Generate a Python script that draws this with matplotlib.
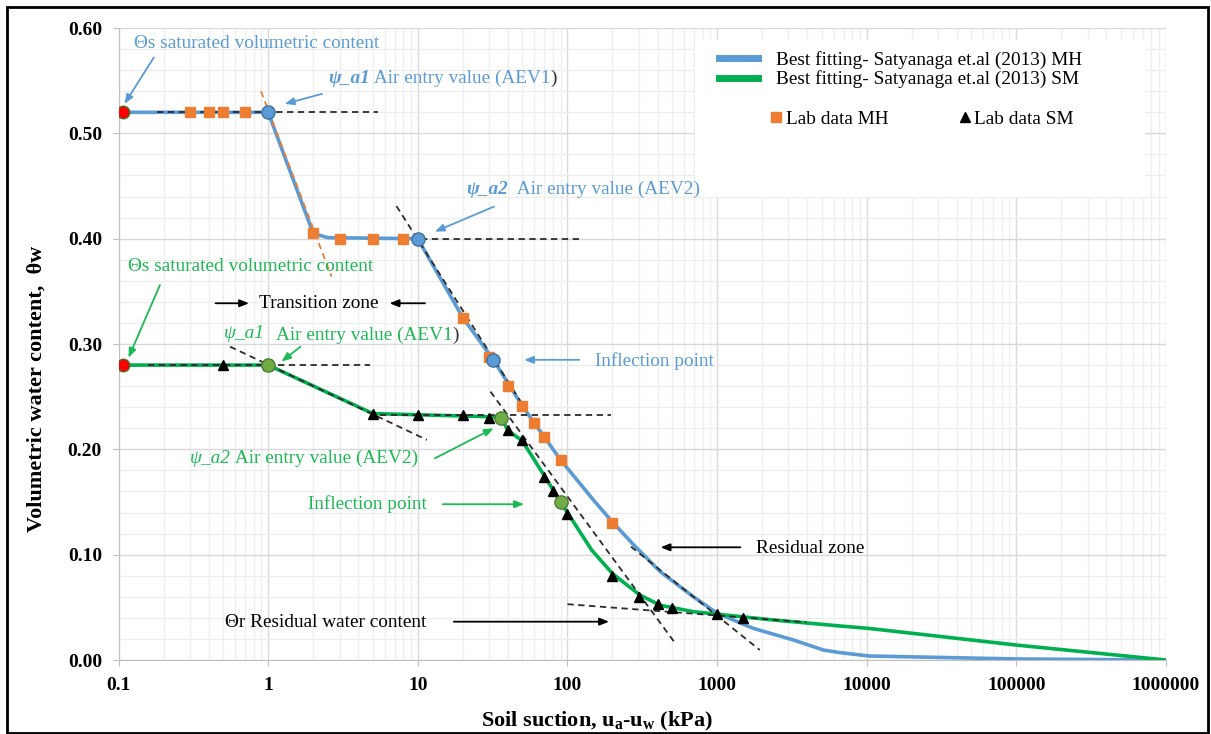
import matplotlib
matplotlib.use('Agg')
import matplotlib.pyplot as plt
from matplotlib.lines import Line2D
from matplotlib.patches import Rectangle
from matplotlib.ticker import MultipleLocator, LogLocator, NullFormatter

plt.rcParams['font.family'] = ['Liberation Serif', 'DejaVu Serif']
plt.rcParams['mathtext.fontset'] = 'custom'
plt.rcParams['mathtext.rm'] = 'Liberation Serif'
plt.rcParams['mathtext.bf'] = 'Liberation Serif:bold'
plt.rcParams['mathtext.it'] = 'Liberation Serif:italic'

# ---------------- data ----------------
mh_fit_x = [0.107, 1, 2, 2.5, 10, 20, 32, 50, 90, 149, 200, 283, 416, 695, 1000,
            1750, 3240, 5130, 6640, 10380, 100000, 1000000]
mh_fit_y = [0.52, 0.52, 0.405, 0.401, 0.40, 0.325, 0.285, 0.241, 0.19, 0.152, 0.131,
            0.108, 0.084, 0.060, 0.0445, 0.030, 0.019, 0.0095, 0.007, 0.0038, 0.001, 0.0]

sm_fit_x = [0.107, 1, 5, 30, 36, 40, 50, 70, 90, 100, 145, 200, 305, 416, 695, 1020,
            2380, 6640, 10350, 100000, 1000000]
sm_fit_y = [0.28, 0.28, 0.234, 0.231, 0.23, 0.218, 0.208, 0.175, 0.15, 0.14, 0.1045,
            0.082, 0.0617, 0.052, 0.0459, 0.0434, 0.038, 0.0323, 0.030, 0.0142, 0.0]

mh_lab_x = [0.3, 0.4, 0.5, 0.7, 2, 3, 5, 8, 20, 30, 40, 50, 60, 70, 90, 200]
mh_lab_y = [0.52, 0.52, 0.52, 0.52, 0.405, 0.40, 0.40, 0.40, 0.325, 0.288, 0.26,
            0.241, 0.225, 0.212, 0.19, 0.13]

sm_lab_x = [0.5, 1, 5, 10, 20, 30, 40, 50, 70, 80, 100, 200, 300, 400, 500, 1000, 1500]
sm_lab_y = [0.28, 0.28, 0.234, 0.233, 0.233, 0.23, 0.218, 0.209, 0.174, 0.16, 0.139,
            0.08, 0.06, 0.053, 0.049, 0.044, 0.04]

sat_x = [0.107, 0.107]
sat_y = [0.52, 0.28]
mh_key_x = [1, 10, 32]
mh_key_y = [0.52, 0.40, 0.285]
sm_key_x = [1, 36, 90]
sm_key_y = [0.28, 0.23, 0.15]

# construction (tangent) lines: (x pair, y pair)
tangents_black = [
    ([0.18, 5.4], [0.52, 0.52]),
    ([10.5, 119], [0.40, 0.40]),
    ([7.2, 52], [0.431, 0.239]),
    ([266, 1930], [0.1076, 0.0095]),
    ([0.157, 4.8], [0.28, 0.28]),
    ([0.556, 11.5], [0.2975, 0.209]),
    ([5.6, 195], [0.233, 0.233]),
    ([30.6, 516], [0.2548, 0.0174]),
    ([100, 3950], [0.053, 0.0359]),
]
tangent_orange = ([0.895, 2.65], [0.54, 0.364])

x_ticks = [0.1, 1, 10, 100, 1000, 10000, 100000, 1000000]
x_tick_labels = ['0.1', '1', '10', '100', '1000', '10000', '100000', '1000000']
y_ticks = [0.0, 0.1, 0.2, 0.3, 0.4, 0.5, 0.6]
y_tick_labels = ['0.00', '0.10', '0.20', '0.30', '0.40', '0.50', '0.60']

# ---------------- style ----------------
BLUE = '#5B9BD5'
GREEN = '#00B050'
ORANGE = '#ED7D31'
TXT_GREEN = '#1DB954'
DASH = '#2b2b2b'
FS = 13.9

fig = plt.figure(figsize=(12.11, 7.34), dpi=100)
ax = fig.add_axes([0.0979, 0.1008, 0.8649, 0.861])
ax.set_xscale('log')
ax.set_xlim(0.1, 1e6)
ax.set_ylim(0, 0.6)

ax.set_axisbelow(True)
ax.xaxis.set_minor_locator(LogLocator(base=10, subs=range(2, 10), numticks=20))
ax.xaxis.set_minor_formatter(NullFormatter())
ax.yaxis.set_minor_locator(MultipleLocator(0.02))
ax.grid(which='major', color='#D9D9D9', lw=1.0)
ax.grid(which='minor', color='#EEEEEE', lw=0.9)

ax.set_xticks(x_ticks)
ax.set_xticklabels(x_tick_labels)
ax.set_yticks(y_ticks)
ax.set_yticklabels(y_tick_labels)
ax.tick_params(which='major', length=4, color='#BFBFBF', labelsize=14, pad=8)
ax.tick_params(which='minor', length=0)
for lab in ax.get_xticklabels() + ax.get_yticklabels():
    lab.set_fontweight('bold')
for s in ['top', 'right']:
    ax.spines[s].set_visible(False)
for s in ['left', 'bottom']:
    ax.spines[s].set_color('#BFBFBF')

# white legend box covering grid
ax.add_patch(Rectangle((0.550, 0.733), 0.430, 0.248, transform=ax.transAxes,
                       facecolor='white', edgecolor='none', zorder=1))

# fitted curves
ax.plot(mh_fit_x, mh_fit_y, color=BLUE, lw=2.6, zorder=2, solid_capstyle='round')
ax.plot(sm_fit_x, sm_fit_y, color=GREEN, lw=2.6, zorder=2, solid_capstyle='round')

# construction lines
for xs, ys in tangents_black:
    ax.plot(xs, ys, color=DASH, lw=1.3, ls=(0, (3.5, 2.5)), zorder=3)
ax.plot(tangent_orange[0], tangent_orange[1], color=ORANGE, lw=1.3, ls=(0, (3.5, 2.5)), zorder=3)

# lab data
ax.plot(mh_lab_x, mh_lab_y, ls='none', marker='s', ms=6.5, color=ORANGE, mec=ORANGE, zorder=4)
ax.plot(sm_lab_x, sm_lab_y, ls='none', marker='^', ms=7.5, color='black', zorder=4)

# key points
ax.plot(sat_x, sat_y, ls='none', marker='o', ms=9, mfc='#FF0000', mec='#4E6B2A', mew=1.0, zorder=5)
ax.plot(mh_key_x, mh_key_y, ls='none', marker='o', ms=9.5, mfc=BLUE, mec='#41719C', mew=1.0, zorder=5)
ax.plot(sm_key_x, sm_key_y, ls='none', marker='o', ms=9.5, mfc='#70AD47', mec='#507E32', mew=1.0, zorder=5)

# ---------------- annotations ----------------
def arrow(frm, to, color):
    ax.annotate('', xy=to, xytext=frm,
                arrowprops=dict(arrowstyle='-|>,head_length=0.55,head_width=0.22',
                                color=color, lw=1.3, shrinkA=0, shrinkB=0), zorder=6)

def chain(prev, txt, color, **kw):
    return ax.annotate(txt, xy=(1, 0), xycoords=prev, va='bottom', ha='left',
                       color=color, fontsize=FS, zorder=6, **kw)

# blue saturated
ax.text(0.127, 0.585, 'Θs saturated volumetric content', color=BLUE, fontsize=FS,
        ha='left', va='center', zorder=6)
arrow((0.172, 0.572), (0.1095, 0.528), BLUE)

# blue AEV1
t = ax.text(2.51, 0.552, 'ψ_a1', color=BLUE, fontsize=FS, fontweight='bold',
            fontstyle='italic', ha='left', va='center', zorder=6)
t = chain(t, ' Air entry value (AEV1', BLUE)
chain(t, ')', '#333333')
arrow((2.29, 0.5375), (1.29, 0.528), BLUE)

# blue AEV2
t = ax.text(21.2, 0.4463, 'ψ_a2', color=BLUE, fontsize=FS, fontweight='bold',
            fontstyle='italic', ha='left', va='center', zorder=6)
chain(t, '  Air entry value (AEV2)', BLUE)
arrow((32.3, 0.4305), (13.0, 0.4067), BLUE)

# blue inflection
ax.text(153, 0.2842, 'Inflection point', color=BLUE, fontsize=FS, ha='left',
        va='center', zorder=6)
arrow((119.6, 0.285), (51.3, 0.285), BLUE)

# green saturated
ax.text(0.1165, 0.374, 'Θs saturated volumetric content', color=TXT_GREEN, fontsize=FS,
        ha='left', va='center', zorder=6)
arrow((0.189, 0.356), (0.1165, 0.287), TXT_GREEN)

# transition zone
ax.text(0.868, 0.3387, 'Transition zone', color='black', fontsize=FS, ha='left',
        va='center', zorder=6)
arrow((0.445, 0.3387), (0.745, 0.3387), 'black')
arrow((11.17, 0.3387), (6.47, 0.3387), 'black')

# green AEV1
ax.text(0.5018, 0.3103, 'ψ_a1', color=TXT_GREEN, fontsize=FS, fontstyle='italic',
        ha='left', va='center', zorder=6)
t = ax.text(1.12, 0.3086, 'Air entry value (AEV1', color=TXT_GREEN, fontsize=FS,
            ha='left', va='center', zorder=6)
chain(t, ')', '#333333')
arrow((1.644, 0.2975), (1.227, 0.2833), TXT_GREEN)

# green AEV2
t = ax.text(0.299, 0.1915, 'ψ_a2', color=TXT_GREEN, fontsize=FS, fontstyle='italic',
            ha='left', va='center', zorder=6)
chain(t, ' Air entry value (AEV2)', TXT_GREEN)
arrow((13.0, 0.1915), (32.1, 0.220), TXT_GREEN)

# green inflection
ax.text(1.857, 0.1479, 'Inflection point', color=TXT_GREEN, fontsize=FS, ha='left',
        va='center', zorder=6)
arrow((14.7, 0.1479), (51.3, 0.1479), TXT_GREEN)

# residual water content
ax.text(0.512, 0.0354, 'Θr Residual water content', color='black', fontsize=FS,
        ha='left', va='center', zorder=6)
arrow((17.4, 0.0364), (189.7, 0.0364), 'black')

# residual zone
ax.text(1820, 0.106, 'Residual zone', color='black', fontsize=FS, ha='left',
        va='center', zorder=6)
arrow((1432, 0.107), (419, 0.107), 'black')

# ---------------- legend ----------------
h_lines = [Line2D([], [], color=BLUE, lw=5), Line2D([], [], color=GREEN, lw=5)]
leg1 = ax.legend(h_lines, ['Best fitting- Satyanaga et.al (2013) MH',
                           'Best fitting- Satyanaga et.al (2013) SM'],
                 loc='upper left', bbox_to_anchor=(0.5732, 0.9636), frameon=False,
                 fontsize=FS, handlelength=2.0, handletextpad=0.95, labelspacing=0.08,
                 borderpad=0, borderaxespad=0)
ax.add_artist(leg1)
h_marks = [Line2D([], [], ls='none', marker='s', ms=6.5, color=ORANGE),
           Line2D([], [], ls='none', marker='^', ms=7.5, color='black')]
leg2 = ax.legend(h_marks, ['Lab data MH', 'Lab data SM'], ncol=2,
                 loc='upper left', bbox_to_anchor=(0.6235, 0.870), frameon=False,
                 fontsize=FS, handlelength=0.5, handletextpad=0.25, columnspacing=3.7,
                 borderpad=0, borderaxespad=0)
for l in (leg1, leg2):
    l.set_zorder(7)

# ---------------- axis labels ----------------
fig.text(0.0303, 0.470, 'Volumetric water content,  θw', rotation=90, ha='center',
         va='center', fontsize=16, fontweight='bold')
fig.text(0.493, 0.0168, r'Soil suction, u$_\mathbf{a}$-u$_\mathbf{w}$ (kPa)', ha='center',
         va='center', fontsize=16, fontweight='bold')

# outer border
fig.patches.append(Rectangle((0.0058, 0.0014), 0.9917, 0.9891, transform=fig.transFigure,
                             facecolor='none', edgecolor='black', lw=2.0))

fig.savefig('out.png', dpi=100)
